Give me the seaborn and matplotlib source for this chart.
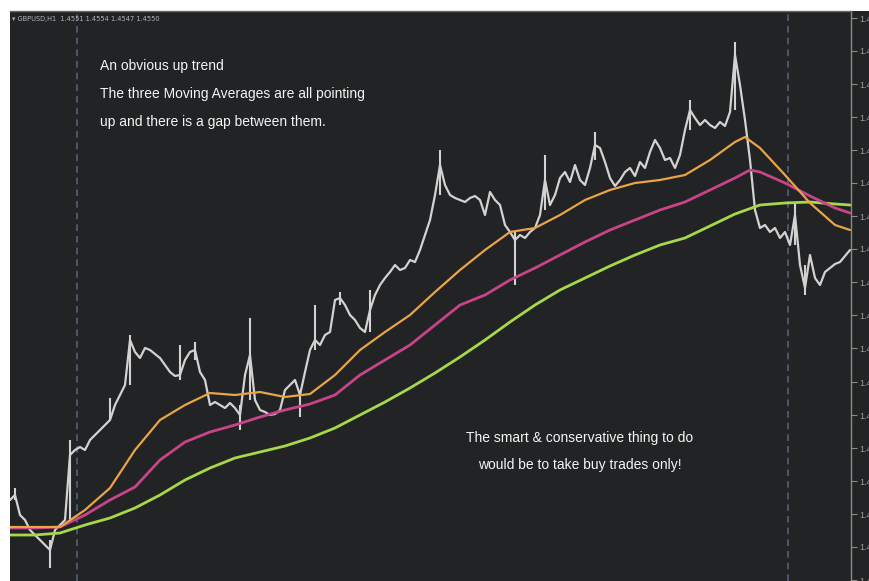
import numpy as np
import pandas as pd
import matplotlib
matplotlib.use('Agg')
import matplotlib.pyplot as plt
from matplotlib import font_manager
import seaborn as sns

# ---------------------------------------------------------------
# GBPUSD H1 - close prices, one bar every step on the time axis
# ---------------------------------------------------------------
close = [1.4300, 1.4305, 1.4285, 1.4280, 1.4270, 1.4265, 1.4260, 1.4255, 1.4250, 1.4270,
         1.4275, 1.4280, 1.4345, 1.4350, 1.4353, 1.4350, 1.4360, 1.4365, 1.4370, 1.4375,
         1.4380, 1.4395, 1.4405, 1.4415, 1.4460, 1.4448, 1.4442, 1.4452, 1.4450, 1.4446,
         1.4442, 1.4435, 1.4428, 1.4424, 1.4425, 1.4440, 1.4448, 1.4450, 1.4428, 1.4420,
         1.4395, 1.4398, 1.4395, 1.4392, 1.4397, 1.4392, 1.4385, 1.4425, 1.4445, 1.4400,
         1.4390, 1.4388, 1.4385, 1.4386, 1.4390, 1.4410, 1.4415, 1.4420, 1.4405, 1.4428,
         1.4450, 1.4460, 1.4455, 1.4465, 1.4468, 1.4500, 1.4502, 1.4495, 1.4485, 1.4480,
         1.4472, 1.4468, 1.4490, 1.4505, 1.4515, 1.4522, 1.4528, 1.4535, 1.4530, 1.4532,
         1.4540, 1.4538, 1.4550, 1.4565, 1.4580, 1.4605, 1.4635, 1.4615, 1.4605, 1.4602,
         1.4600, 1.4598, 1.4602, 1.4604, 1.4600, 1.4585, 1.4608, 1.4600, 1.4595, 1.4575,
         1.4568, 1.4560, 1.4565, 1.4562, 1.4568, 1.4572, 1.4585, 1.4620, 1.4595, 1.4605,
         1.4622, 1.4628, 1.4618, 1.4635, 1.4620, 1.4615, 1.4632, 1.4655, 1.4652, 1.4638,
         1.4622, 1.4614, 1.4620, 1.4628, 1.4632, 1.4624, 1.4638, 1.4632, 1.4648, 1.4660,
         1.4652, 1.4640, 1.4642, 1.4632, 1.4645, 1.4670, 1.4690, 1.4682, 1.4675, 1.4680,
         1.4675, 1.4672, 1.4678, 1.4674, 1.4688, 1.4745, 1.4715, 1.4680, 1.4640, 1.4590,
         1.4572, 1.4575, 1.4568, 1.4572, 1.4562, 1.4568, 1.4555, 1.4585, 1.4535, 1.4512,
         1.4545, 1.4522, 1.4515, 1.4528, 1.4532, 1.4536, 1.4538, 1.4544, 1.4550]

# bars with long wicks: (bar, high, low)
wick_bar = [1, 8, 12, 20, 24, 34, 37, 46, 48, 58, 61, 66, 72, 86, 101, 107, 117, 136, 145, 157, 159]
wick_high = [1.4312, 1.4260, 1.4360, 1.4402, 1.4465, 1.4455, 1.4458, 1.4395, 1.4482, 1.4405, 1.4495,
             1.4508, 1.4510, 1.4650, 1.4568, 1.4645, 1.4668, 1.4700, 1.4758, 1.4597, 1.4535]
wick_low = [1.4300, 1.4232, 1.4280, 1.4380, 1.4415, 1.4420, 1.4440, 1.4370, 1.4400, 1.4383, 1.4450,
            1.4495, 1.4468, 1.4605, 1.4515, 1.4590, 1.4640, 1.4670, 1.4690, 1.4555, 1.4505]

# three moving averages (fast / medium / slow)
ma_fast_bar = [0, 5, 10, 15, 20, 25, 30, 35, 40, 45, 50, 55, 60, 65, 70, 75, 80, 85, 90, 95,
               100, 105, 110, 115, 120, 125, 130, 135, 140, 145, 147, 150, 155, 160, 165, 168]
ma_fast = [1.4273, 1.4273, 1.4273, 1.4290, 1.4312, 1.4350, 1.4380, 1.4395, 1.4407, 1.4405,
           1.4408, 1.4403, 1.4406, 1.4425, 1.4450, 1.4468, 1.4485, 1.4508, 1.4530, 1.4550,
           1.4568, 1.4572, 1.4585, 1.4600, 1.4610, 1.4617, 1.4620, 1.4625, 1.4640, 1.4658,
           1.4663, 1.4652, 1.4625, 1.4597, 1.4575, 1.4570]

ma_mid_bar = [0, 5, 10, 15, 20, 25, 30, 35, 40, 45, 50, 55, 60, 65, 70, 75, 80, 85, 90, 95,
              100, 105, 110, 115, 120, 125, 130, 135, 140, 145, 148, 150, 155, 160, 165, 168]
ma_mid = [1.4272, 1.4272, 1.4273, 1.4285, 1.4300, 1.4313, 1.4340, 1.4358, 1.4368, 1.4375,
          1.4383, 1.4390, 1.4396, 1.4405, 1.4425, 1.4440, 1.4455, 1.4475, 1.4495, 1.4505,
          1.4520, 1.4532, 1.4545, 1.4558, 1.4570, 1.4580, 1.4590, 1.4598, 1.4610, 1.4622,
          1.4630, 1.4628, 1.4617, 1.4604, 1.4592, 1.4587]

ma_slow_bar = [0, 5, 10, 15, 20, 25, 30, 35, 40, 45, 50, 55, 60, 65, 70, 75, 80, 85, 90, 95,
               100, 105, 110, 115, 120, 125, 130, 135, 140, 145, 150, 155, 160, 165, 168]
ma_slow = [1.4265, 1.4265, 1.4267, 1.4275, 1.4282, 1.4292, 1.4305, 1.4320, 1.4332, 1.4342,
           1.4348, 1.4354, 1.4362, 1.4372, 1.4385, 1.4398, 1.4412, 1.4427, 1.4443, 1.4460,
           1.4478, 1.4495, 1.4510, 1.4522, 1.4534, 1.4545, 1.4555, 1.4562, 1.4574, 1.4586,
           1.4595, 1.4597, 1.4598, 1.4596, 1.4595]

separators = [13.4, 155.6]
price_ticks = [1.4782, 1.4749, 1.4716, 1.4683, 1.4650, 1.4617, 1.4584, 1.4551, 1.4518,
               1.4485, 1.4452, 1.4418, 1.4385, 1.4352, 1.4319, 1.4286, 1.4253, 1.4220]
header = "GBPUSD,H1  1.4551 1.4554 1.4547 1.4550"
note_top = ["An obvious up trend",
            "The three Moving Averages are all pointing",
            "up and there is a gap between them."]
note_bottom = ["The smart & conservative thing to do",
               "would be to take buy trades only!"]

# ---------------------------------------------------------------
BG = '#222324'
sns.set_style('dark')
names = [f.name for f in font_manager.fontManager.ttflist]
narrow = 'Liberation Sans Narrow' if 'Liberation Sans Narrow' in names else 'Liberation Sans'
plt.rcParams['font.family'] = [narrow, 'DejaVu Sans']

W, H = 869, 581
fig = plt.figure(figsize=(W / 100, H / 100), dpi=100, facecolor='white')
fig.patches.append(plt.Rectangle((10 / W, 0), 1, (H - 11) / H, transform=fig.transFigure,
                                 facecolor=BG, edgecolor='none', zorder=-5))
ax = fig.add_axes([10 / W, 0, (851 - 10) / W, (H - 11) / H])
ax.set_facecolor(BG)

bars = pd.DataFrame({'bar': np.arange(len(close)), 'close': close})
sns.lineplot(data=bars, x='bar', y='close', ax=ax, color='#d2d2d2', lw=1.6, zorder=3)
ax.vlines(wick_bar, wick_low, wick_high, color='#d2d2d2', lw=1.5, zorder=3)

sns.lineplot(x=ma_slow_bar, y=ma_slow, ax=ax, color='#a6d84a', lw=2.0, zorder=4)
sns.lineplot(x=ma_mid_bar, y=ma_mid, ax=ax, color='#c8448a', lw=2.0, zorder=4)
sns.lineplot(x=ma_fast_bar, y=ma_fast, ax=ax, color='#e9a448', lw=1.6, zorder=5)

for s in separators:
    ax.axvline(s, color='#50607a', lw=1.2, ls=(0, (4, 3)), zorder=2)

ax.set_xlim(0, 168.2)
ax.set_ylim(1.4800 - 0.0581, 1.4800 - 0.0011)
ax.set_xlabel('')
ax.set_ylabel('')
ax.set_xticks([])
ax.grid(False)
ax.yaxis.tick_right()
ax.set_yticks(price_ticks)
ax.set_yticklabels([f'{p:.4f}' for p in price_ticks])
ax.tick_params(axis='y', which='both', right=True, direction='out', length=4, width=0.8,
               color='#8a8a8a', labelcolor='#9c9c9c', labelsize=6.5, pad=2)
for side in ['left', 'bottom']:
    ax.spines[side].set_visible(False)
ax.spines['right'].set_color('#8a8a8a')
ax.spines['right'].set_linewidth(1.0)
ax.spines['top'].set_color('#6a6a6a')
ax.spines['top'].set_linewidth(1.0)

fig.text(12 / W, 1 - 19 / H, '▾ ' + header, fontsize=4.8, color='#b4b4b4',
         va='center', ha='left', family=['DejaVu Sans'])

for k, line in enumerate(note_top):
    fig.text(100 / W, 1 - (66 + 28 * k) / H, line, fontsize=10, color='#f4f4f4',
             va='center', ha='left')
for k, line in enumerate(note_bottom):
    fig.text(580 / W, 1 - (438 + 27 * k) / H, line, fontsize=10, color='#f4f4f4',
             va='center', ha='center')

fig.savefig('out.png', dpi=100, facecolor='white')
